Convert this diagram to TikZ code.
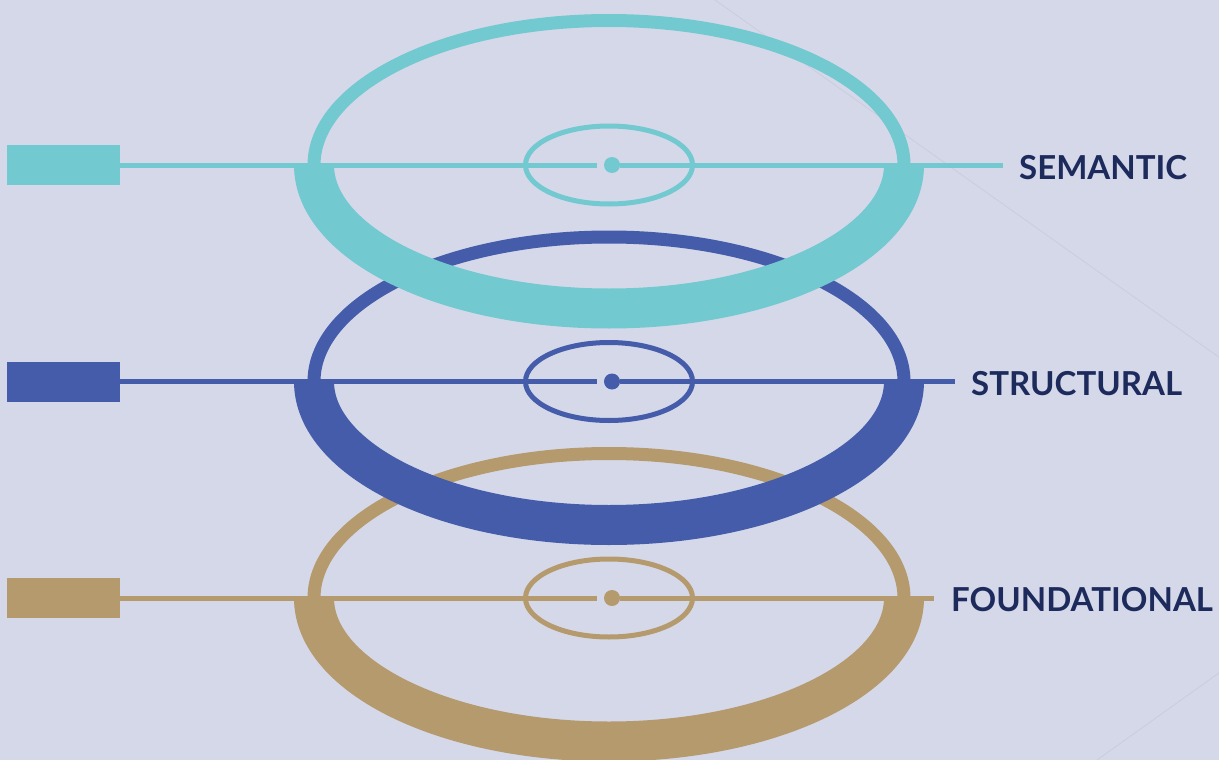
\documentclass[tikz,border=0pt]{standalone}
\usepackage{fontspec}
\newfontfamily\labelfont{Lato}
\usetikzlibrary{calc}

\definecolor{paper}{HTML}{D5D8E9}
\definecolor{crease}{HTML}{CACDDF}
\definecolor{navy}{HTML}{1C2A5C}
\definecolor{semcol}{HTML}{72C9D0}
\definecolor{strcol}{HTML}{445CA9}
\definecolor{fndcol}{HTML}{B59A6D}

\begin{document}
\begin{tikzpicture}[
    x=1pt, y=-1pt,
    tag/.style={fill=#1, inner sep=0pt, minimum width=113pt, minimum height=40pt},
    hub/.style={circle, fill=#1, inner sep=0pt, minimum size=16pt},
    lbl/.style={anchor=west, inner sep=0pt, text=navy,
                font=\labelfont\bfseries\fontsize{33}{33}\selectfont},
    axis/.style={draw=#1, line width=5pt},
    rimthin/.style={draw=#1, line width=13pt},
    rimthick/.style={draw=#1, line width=40pt},
    core/.style={draw=#1, line width=5pt}]

    % page
    \fill[paper] (0,0) rectangle (1219,760);
    \useasboundingbox (0,0) rectangle (1219,760);
    \draw[crease, line width=0.8pt] (715,0) -- (1230,365);
    \draw[crease, line width=0.8pt] (1230,665) -- (1090,765);

    % foundational
    \coordinate (fndC) at (609,598);
    \draw[rimthin=fndcol] ([xshift=-295pt]fndC)
        arc[start angle=180, end angle=0, x radius=295pt, y radius=144.5pt];
    \draw[rimthick=fndcol] ([xshift=-295pt]fndC)
        arc[start angle=180, end angle=360, x radius=295pt, y radius=143.5pt];
    \node[tag=fndcol] (fndBox) at (63.5,598) {};
    \node[hub=fndcol] (fndDot) at (612,598) {};
    \node[lbl] (fndLbl) at (951,600) {FOUNDATIONAL};
    \draw[axis=fndcol, shorten >=7pt] (fndBox) -- (fndDot);
    \draw[axis=fndcol, shorten >=17pt] (fndDot) -- (fndDot -| fndLbl.west);
    \draw[core=fndcol] (fndC) ellipse[x radius=83.5pt, y radius=39pt];

    % structural
    \coordinate (strC) at (609,381.5);
    \draw[rimthin=strcol] ([xshift=-295pt]strC)
        arc[start angle=180, end angle=0, x radius=295pt, y radius=144.5pt];
    \draw[rimthick=strcol] ([xshift=-295pt]strC)
        arc[start angle=180, end angle=360, x radius=295pt, y radius=143.5pt];
    \node[tag=strcol] (strBox) at (63.5,381.5) {};
    \node[hub=strcol] (strDot) at (612,381.5) {};
    \node[lbl] (strLbl) at (971,384) {STRUCTURAL};
    \draw[axis=strcol, shorten >=7pt] (strBox) -- (strDot);
    \draw[axis=strcol, shorten >=16pt] (strDot) -- (strDot -| strLbl.west);
    \draw[core=strcol] (strC) ellipse[x radius=83.5pt, y radius=39pt];

    % semantic
    \coordinate (semC) at (609,165);
    \draw[rimthin=semcol] ([xshift=-295pt]semC)
        arc[start angle=180, end angle=0, x radius=295pt, y radius=144.5pt];
    \draw[rimthick=semcol] ([xshift=-295pt]semC)
        arc[start angle=180, end angle=360, x radius=295pt, y radius=143.5pt];
    \node[tag=semcol] (semBox) at (63.5,165) {};
    \node[hub=semcol] (semDot) at (612,165) {};
    \node[lbl] (semLbl) at (1019,167.5) {SEMANTIC};
    \draw[axis=semcol, shorten >=7pt] (semBox) -- (semDot);
    \draw[axis=semcol, shorten >=16pt] (semDot) -- (semDot -| semLbl.west);
    \draw[core=semcol] (semC) ellipse[x radius=83.5pt, y radius=39pt];
  \end{tikzpicture}
\end{document}
